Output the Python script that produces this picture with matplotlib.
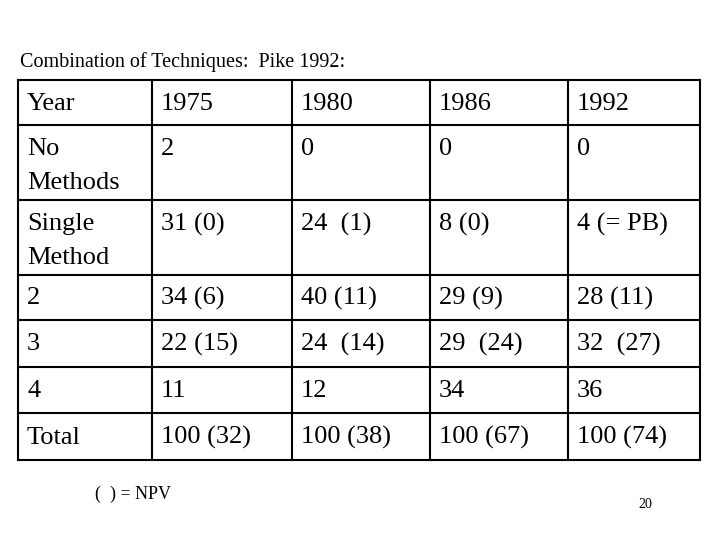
import matplotlib
matplotlib.use("Agg")
import matplotlib.pyplot as plt

title = "Combination of Techniques:  Pike 1992:"
header = ["Year", "1975", "1980", "1986", "1992"]
row_labels = ["No\nMethods", "Single\nMethod", "2", "3", "4", "Total"]
y1975 = ["2", "31 (0)", "34 (6)", "22 (15)", "11", "100 (32)"]
y1980 = ["0", "24  (1)", "40 (11)", "24  (14)", "12", "100 (38)"]
y1986 = ["0", "8 (0)", "29 (9)", "29  (24)", "34", "100 (67)"]
y1992 = ["0", "4 (= PB)", "28 (11)", "32  (27)", "36", "100 (74)"]
note = "(  ) = NPV"
page = "20"

W, H = 720, 540
fig = plt.figure(figsize=(7.2, 5.4), dpi=100)
ax = fig.add_axes([0, 0, 1, 1])
ax.set_xlim(0, W); ax.set_ylim(H, 0); ax.axis("off")
fam = ["Liberation Serif", "DejaVu Serif"]

xs = [18, 152, 292, 430, 568, 700]
ys = [80, 125, 200, 275, 320, 367, 413, 460]
for x in xs:
    ax.plot([x, x], [ys[0], ys[-1]], color="black", lw=1.5)
for y in ys:
    ax.plot([xs[0], xs[-1]], [y, y], color="black", lw=1.5)

ax.text(20, 62, title, fontsize=14.5, family=fam, va="center")
rows = [header] + [[row_labels[i], y1975[i], y1980[i], y1986[i], y1992[i]] for i in range(len(row_labels))]
for r, row in enumerate(rows):
    tall = (ys[r + 1] - ys[r]) > 60
    for c, txt in enumerate(row):
        if tall:
            for k, line in enumerate(txt.split("\n")):
                ax.text(xs[c] + 9, ys[r] + 24 + 34 * k, line, fontsize=19, family=fam, va="center")
        else:
            ax.text(xs[c] + 9, (ys[r] + ys[r + 1]) / 2 + 1, txt, fontsize=19, family=fam, va="center")
ax.text(95, 494, note, fontsize=13, family=fam, va="center")
ax.text(645, 505, page, fontsize=10, family=fam, va="center", ha="center")
fig.savefig("out.png", dpi=100)
